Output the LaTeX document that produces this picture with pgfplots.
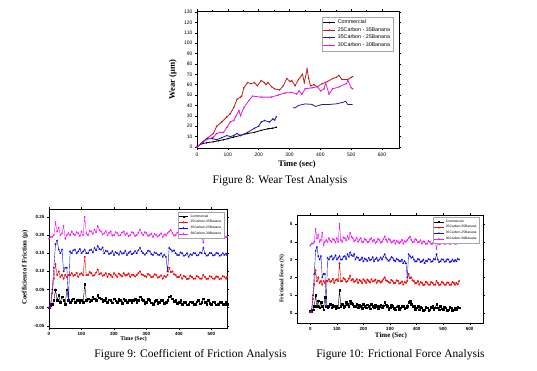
\documentclass[border=0pt]{standalone}
\usepackage{fontspec}
\setmainfont{Liberation Serif}
\setsansfont{Liberation Sans}
\usepackage{pgfplots}
\usepackage{pgfplotstable}
\pgfplotsset{compat=1.18}
\definecolor{wred}{HTML}{C41E1E}
\definecolor{wblue}{HTML}{1E1EA8}
\definecolor{wmag}{HTML}{E01EE0}
\definecolor{cred}{HTML}{F01010}
\definecolor{cblue}{HTML}{1010E0}
\definecolor{cmag}{HTML}{F020F0}

\pgfplotstableread{
x y
0 0
14 3
31 4
53 5
70 6
86 7
100 8
119 9.5
140 11
164 13
186 14
208 16
230 17.5
245 18
257 19
}\wcom
\pgfplotstableread{
x y
0 0
20 5
36 9
53 13
64 20
80 24
97 29
108 32
119 38
130 46
141 48
145 49
152 57
164 62
175 61
186 62
196 59
208 64
218 62
224 60
230 62
242 58
252 56
268 55
280 59
291 66
302 63
307 64
318 59
329 65
342 70
348 62
357 75
362 66
368 59
379 60
390 58
406 61
423 63
440 66
451 67
460 69
470 65
489 65
500 67
505 68
}\wcs
\pgfplotstableread{
x y
0 0
20 5
31 8
50 8
64 7
80 9
97 11
108 10
119 11
130 13
141 11
164 14
186 18
200 20
208 24
219 25.5
235 24
246 27
252 26
257 29
}\wcba
\pgfplotstableread{
x y
312 38
318 37.6
329 40
351 41.5
373 41
384 39
395 40
406 41
430 41
451 41.5
473 43
482 44
489 41
505 41
}\wcbb
\pgfplotstableread{
x y
0 0
15 4
31 7
53 9.5
64 13
75 14
86 14
97 19
108 24
119 25.5
125 29
136 35
141 30
152 38
169 45
180 49
208 48
241 48
263 50
285 52
307 52.5
323 51
331 54
340 51
351 56
373 57
390 58
401 54
412 56
417 62
428 51
440 56
462 58
484 61
489 64
500 57
505 56
}\wcm

\pgfplotstableread{
x k r b m
0 0.000 0.000 0.000 0.190
5 0.005 0.002 0.010 0.195
10 0.010 0.040 0.050 0.195
15 0.020 0.080 0.110 0.200
20 0.050 0.120 0.175 0.235
25 0.020 0.090 0.185 0.210
30 0.035 0.100 0.160 0.220
35 0.015 0.085 0.150 0.200
40 0.030 0.090 0.160 0.205
45 0.020 0.080 0.100 0.225
50 0.010 0.090 0.110 0.190
55 0.050 0.085 0.110 0.200
60 0.020 0.090 0.020 0.205
65 0.015 0.090 0.155 0.200
70 0.020 0.095 0.150 0.210
75 0.025 0.088 0.158 0.203
80 0.015 0.090 0.160 0.200
85 0.022 0.096 0.150 0.208
90 0.020 0.085 0.155 0.205
95 0.014 0.092 0.162 0.198
100 0.020 0.095 0.150 0.210
105 0.015 0.090 0.155 0.200
110 0.065 0.140 0.160 0.250
115 0.020 0.090 0.150 0.205
120 0.025 0.090 0.150 0.200
125 0.016 0.098 0.158 0.212
130 0.020 0.095 0.160 0.210
135 0.030 0.088 0.152 0.204
140 0.025 0.090 0.165 0.215
145 0.020 0.097 0.158 0.208
150 0.035 0.105 0.170 0.225
155 0.028 0.092 0.162 0.214
160 0.025 0.095 0.160 0.210
165 0.018 0.088 0.166 0.202
170 0.020 0.090 0.150 0.205
175 0.026 0.095 0.157 0.211
180 0.015 0.085 0.155 0.200
185 0.022 0.093 0.148 0.206
190 0.020 0.090 0.150 0.210
195 0.014 0.084 0.156 0.199
200 0.025 0.095 0.145 0.200
205 0.019 0.090 0.153 0.208
210 0.015 0.085 0.150 0.205
215 0.024 0.094 0.146 0.199
220 0.020 0.090 0.155 0.200
225 0.013 0.086 0.149 0.207
230 0.025 0.095 0.150 0.210
235 0.020 0.089 0.157 0.201
240 0.015 0.090 0.145 0.205
245 0.022 0.094 0.151 0.197
250 0.020 0.085 0.155 0.200
255 0.014 0.091 0.147 0.208
260 0.020 0.090 0.150 0.205
265 0.024 0.086 0.156 0.198
270 0.015 0.090 0.150 0.200
275 0.021 0.095 0.158 0.207
280 0.030 0.100 0.165 0.215
285 0.024 0.092 0.155 0.206
290 0.020 0.090 0.150 0.200
295 0.012 0.087 0.146 0.208
300 0.015 0.085 0.150 0.205
305 0.023 0.093 0.157 0.198
310 0.020 0.090 0.155 0.200
315 0.014 0.084 0.148 0.204
320 0.010 0.085 0.145 0.195
325 0.018 0.092 0.152 0.203
330 0.020 0.090 0.150 0.200
335 0.012 0.083 0.146 0.196
340 0.015 0.085 0.145 0.200
345 0.021 0.089 0.150 0.205
350 0.020 0.080 0.140 0.195
355 0.013 0.087 0.146 0.202
360 0.015 0.085 0.140 0.200
365 0.020 0.090 0.100 0.205
370 0.030 0.110 0.165 0.210
375 0.033 0.098 0.160 0.214
380 0.025 0.100 0.155 0.205
385 0.018 0.092 0.158 0.199
390 0.020 0.090 0.150 0.200
395 0.012 0.084 0.145 0.207
400 0.015 0.085 0.145 0.205
405 0.020 0.090 0.152 0.198
410 0.010 0.080 0.150 0.200
415 0.016 0.087 0.143 0.204
420 0.015 0.085 0.145 0.195
425 0.008 0.079 0.150 0.201
430 0.010 0.080 0.140 0.200
435 0.017 0.088 0.147 0.194
440 0.015 0.085 0.145 0.195
445 0.009 0.080 0.151 0.202
450 0.010 0.080 0.150 0.200
455 0.016 0.087 0.144 0.194
460 0.020 0.085 0.145 0.195
465 0.011 0.080 0.152 0.201
470 0.015 0.080 0.150 0.200
475 0.025 0.090 0.165 0.180
480 0.015 0.085 0.150 0.200
485 0.010 0.079 0.143 0.193
490 0.020 0.080 0.145 0.195
495 0.013 0.087 0.151 0.201
500 0.010 0.085 0.150 0.200
505 0.017 0.080 0.144 0.194
510 0.015 0.080 0.145 0.195
515 0.008 0.086 0.151 0.201
520 0.010 0.085 0.150 0.200
525 0.016 0.079 0.143 0.194
530 0.015 0.080 0.145 0.195
535 0.009 0.087 0.150 0.201
540 0.010 0.085 0.145 0.200
545 0.015 0.080 0.149 0.194
548 0.010 0.085 0.145 0.195
}\cof

\pgfplotstableread{
x k r b m
0 0.10 0.05 0.10 3.80
5 0.10 0.05 0.20 3.90
10 0.20 0.80 1.00 3.90
15 0.40 1.60 2.20 4.00
20 1.00 2.40 3.50 4.70
25 0.40 1.80 3.70 4.20
30 0.70 2.00 3.20 4.40
35 0.30 1.70 3.00 4.00
40 0.60 1.80 3.20 4.10
45 0.40 1.60 2.00 4.50
50 0.20 1.80 2.20 3.80
55 0.90 1.70 2.20 4.00
60 0.40 1.80 0.40 4.10
65 0.30 1.80 3.10 4.00
70 0.40 1.90 3.00 4.20
75 0.50 1.76 3.16 4.06
80 0.30 1.80 3.20 4.00
85 0.44 1.92 3.00 4.16
90 0.40 1.70 3.10 4.10
95 0.28 1.84 3.24 3.96
100 0.40 1.90 3.00 4.20
105 0.30 1.80 3.10 4.00
110 1.30 2.80 3.20 5.00
115 0.40 1.80 3.00 4.10
120 0.50 1.80 3.00 4.00
125 0.32 1.96 3.16 4.24
130 0.40 1.90 3.20 4.20
135 0.60 1.76 3.04 4.08
140 0.50 1.80 3.30 4.30
145 0.40 1.94 3.16 4.16
150 0.70 2.10 3.40 4.50
155 0.56 1.84 3.24 4.28
160 0.50 1.90 3.20 4.20
165 0.36 1.76 3.32 4.04
170 0.40 1.80 3.00 4.10
175 0.52 1.90 3.14 4.22
180 0.30 1.70 3.10 4.00
185 0.44 1.86 2.96 4.12
190 0.40 1.80 3.00 4.20
195 0.28 1.68 3.12 3.98
200 0.50 1.90 2.90 4.00
205 0.38 1.80 3.06 4.16
210 0.30 1.70 3.00 4.10
215 0.48 1.88 2.92 3.98
220 0.40 1.80 3.10 4.00
225 0.26 1.72 2.98 4.14
230 0.50 1.90 3.00 4.20
235 0.40 1.78 3.14 4.02
240 0.30 1.80 2.90 4.10
245 0.44 1.88 3.02 3.94
250 0.40 1.70 3.10 4.00
255 0.28 1.82 2.94 4.16
260 0.40 1.80 3.00 4.10
265 0.48 1.72 3.12 3.96
270 0.30 1.80 3.00 4.00
275 0.42 1.90 3.16 4.14
280 0.60 2.00 3.30 4.30
285 0.48 1.84 3.10 4.12
290 0.40 1.80 3.00 4.00
295 0.24 1.74 2.92 4.16
300 0.30 1.70 3.00 4.10
305 0.46 1.86 3.14 3.96
310 0.40 1.80 3.10 4.00
315 0.28 1.68 2.96 4.08
320 0.20 1.70 2.90 3.90
325 0.36 1.84 3.04 4.06
330 0.40 1.80 3.00 4.00
335 0.24 1.66 2.92 3.92
340 0.30 1.70 2.90 4.00
345 0.42 1.78 3.00 4.10
350 0.40 1.60 2.80 3.90
355 0.26 1.74 2.92 4.04
360 0.30 1.70 2.80 4.00
365 0.40 1.80 2.00 4.10
370 0.60 2.20 3.30 4.20
375 0.66 1.96 3.20 4.28
380 0.50 2.00 3.10 4.10
385 0.36 1.84 3.16 3.98
390 0.40 1.80 3.00 4.00
395 0.24 1.68 2.90 4.14
400 0.30 1.70 2.90 4.10
405 0.40 1.80 3.04 3.96
410 0.20 1.60 3.00 4.00
415 0.32 1.74 2.86 4.08
420 0.30 1.70 2.90 3.90
425 0.16 1.58 3.00 4.02
430 0.20 1.60 2.80 4.00
435 0.34 1.76 2.94 3.88
440 0.30 1.70 2.90 3.90
445 0.18 1.60 3.02 4.04
450 0.20 1.60 3.00 4.00
455 0.32 1.74 2.88 3.88
460 0.40 1.70 2.90 3.90
465 0.22 1.60 3.04 4.02
470 0.30 1.60 3.00 4.00
475 0.50 1.80 3.30 3.60
480 0.30 1.70 3.00 4.00
485 0.20 1.58 2.86 3.86
490 0.40 1.60 2.90 3.90
495 0.26 1.74 3.02 4.02
500 0.20 1.70 3.00 4.00
505 0.34 1.60 2.88 3.88
510 0.30 1.60 2.90 3.90
515 0.16 1.72 3.02 4.02
520 0.20 1.70 3.00 4.00
525 0.32 1.58 2.86 3.88
530 0.30 1.60 2.90 3.90
535 0.18 1.74 3.00 4.02
540 0.20 1.70 2.90 4.00
545 0.30 1.60 2.98 3.88
550 0.20 1.70 2.90 3.90
555 0.34 1.62 3.04 4.04
560 0.30 1.80 3.00 4.00
}\ff

\pgfplotsset{
  small/.style={
    scale only axis,
    tick align=outside,
    axis line style={line width=0.5pt},
    every tick/.style={black, line width=0.4pt},
    major tick length=2pt,
    minor tick length=1pt,
    tick label style={font=\sffamily\bfseries\fontsize{4.5}{5}\selectfont},
    /pgf/number format/assume math mode=true,
    xticklabel style={yshift=1pt},
    yticklabel style={xshift=1pt},
    legend cell align=left,
  },
  pts/.style={line width=0.4pt, mark size=0.8pt},
}

\begin{document}
\begin{tikzpicture}[x=1pt,y=1pt]
\useasboundingbox (0pt,0pt) rectangle (537pt,370pt);

% ---------- Figure 8 ----------
\begin{axis}[small,
  at={(197pt,222pt)}, anchor=south west,
  width=202pt, height=137pt,
  xmin=0, xmax=655, ymin=-1, ymax=131,
  xtick={0,100,...,600}, ytick={0,10,...,130},
  minor x tick num=1,
  tick label style={font=\sffamily\fontsize{5}{6}\selectfont},
  xlabel={\textbf{Time (sec)}},
  ylabel={\textbf{Wear (μm)}},
  xlabel style={font=\fontsize{8.5}{10}\selectfont, at={(axis description cs:0.495,-0.117)}, anchor=center},
  ylabel style={font=\fontsize{8.5}{10}\selectfont, at={(axis description cs:-0.12,0.5)}, anchor=center},
  legend style={at={(0.97,0.956)}, anchor=north east, draw=gray!70, line width=0.3pt,
     font=\sffamily\fontsize{5.3}{5.5}\selectfont, inner sep=0.8pt, row sep=-1.8pt},
  legend image post style={xscale=0.7},
]
\addplot[black, line width=0.8pt, mark=*, mark size=0.3pt] table {\wcom};
\addlegendentry{Commercial}
\addplot[wred, line width=0.8pt, mark=*, mark size=0.3pt] table {\wcs};
\addlegendentry{25Carbon - 35Banana}
\addplot[wblue, line width=0.8pt, mark=*, mark size=0.3pt] table {\wcba};
\addlegendentry{35Carbon - 25Banana}
\addplot[wmag, line width=0.8pt, mark=*, mark size=0.3pt] table {\wcm};
\addlegendentry{30Carbon - 30Banana}
\addplot[wblue, line width=0.8pt, forget plot] table {\wcbb};
\end{axis}

% ---------- Figure 9 ----------
\begin{axis}[small,
  at={(49pt,42pt)}, anchor=south west,
  width=178pt, height=119pt,
  xmin=0, xmax=548, ymin=-0.056, ymax=0.272,
  xtick={0,100,...,500}, ytick={-0.05,0,0.05,0.10,0.15,0.20,0.25},
  scaled y ticks=false,
  yticklabel style={/pgf/number format/.cd, fixed, fixed zerofill, precision=2},
  xlabel={\textbf{Time (Sec)}},
  ylabel={\textbf{Coefficient of Friction (μ)}},
  xlabel style={font=\fontsize{5.8}{7}\selectfont, at={(axis description cs:0.475,-0.092)}, anchor=center},
  ylabel style={font=\fontsize{6.8}{8}\selectfont, at={(axis description cs:-0.135,0.51)}, anchor=center},
  legend style={at={(0.983,0.975)}, anchor=north east, draw=gray!70, line width=0.3pt,
     font=\sffamily\fontsize{3.3}{3.5}\selectfont, inner sep=0.6pt, row sep=-2.2pt},
  legend image post style={xscale=0.55},
]
\addplot[black, pts, mark=square*] table[x=x,y=k] {\cof};
\addlegendentry{Commercial}
\addplot[cred, pts, mark=*] table[x=x,y=r] {\cof};
\addlegendentry{25Carbon-35Banana}
\addplot[cblue, pts, mark=triangle*] table[x=x,y=b] {\cof};
\addlegendentry{35Carbon-25Banana}
\addplot[cmag, pts, mark=diamond*] table[x=x,y=m] {\cof};
\addlegendentry{30Carbon-30Banana}
\end{axis}

% ---------- Figure 10 ----------
\begin{axis}[small,
  at={(297pt,47pt)}, anchor=south west,
  width=186pt, height=108pt,
  xmin=-50, xmax=650, ymin=-0.55, ymax=5.5,
  xtick={0,100,...,600}, ytick={0,1,...,5},
  xlabel={\textbf{Time (Sec)}},
  ylabel={\textbf{Frictional Force (N)}},
  xlabel style={font=\fontsize{7}{8}\selectfont, at={(axis description cs:0.505,-0.12)}, anchor=center},
  ylabel style={font=\fontsize{5.6}{7}\selectfont, at={(axis description cs:-0.08,0.41)}, anchor=center},
  legend style={at={(0.98,0.98)}, anchor=north east, draw=gray!70, line width=0.3pt,
     font=\sffamily\fontsize{3.3}{3.5}\selectfont, inner sep=0.6pt, row sep=-2.2pt},
  legend image post style={xscale=0.55},
]
\addplot[black, pts, mark=square*] table[x=x,y=k] {\ff};
\addlegendentry{Commercial}
\addplot[cred, pts, mark=*] table[x=x,y=r] {\ff};
\addlegendentry{25Carbon-35Banana}
\addplot[cblue, pts, mark=triangle*] table[x=x,y=b] {\ff};
\addlegendentry{35Carbon-25Banana}
\addplot[cmag, pts, mark=diamond*] table[x=x,y=m] {\ff};
\addlegendentry{30Carbon-30Banana}
\end{axis}

% ---------- Captions ----------
\node[font=\fontsize{11.5}{13}\selectfont, anchor=center] at (280pt,189pt) {Figure 8: Wear Test Analysis};
\node[font=\fontsize{11.5}{13}\selectfont, anchor=center] at (190.5pt,15pt) {Figure 9: Coefficient of Friction Analysis};
\node[font=\fontsize{11.5}{13}\selectfont, anchor=center] at (400.5pt,15pt) {Figure 10: Frictional Force Analysis};
\end{tikzpicture}
\end{document}
